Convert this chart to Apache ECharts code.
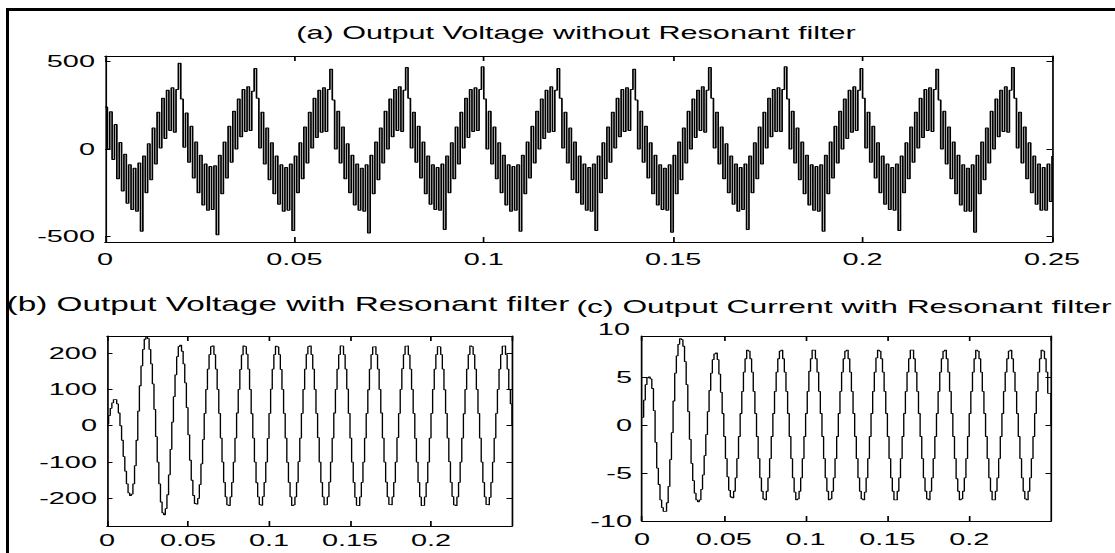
<!DOCTYPE html>
<html><head><meta charset="utf-8">
<script src="https://cdn.jsdelivr.net/npm/echarts@6/dist/echarts.min.js"></script>
<style>
html,body{margin:0;padding:0;background:#fff;overflow:hidden;}
#wrap{width:1115px;height:553px;overflow:hidden;position:relative;background:#fff;}
#chart{width:656px;height:553px;transform:scaleX(1.69970);transform-origin:0 0;}
</style></head><body><div id="wrap"><div id="chart"></div></div>
<script>
// ---------------- data ----------------
const titles = [
  '(a) Output Voltage without Resonant filter',
  '(b) Output Voltage with Resonant filter',
  '(c) Output Current with Resonant filter'
];
const timeStepA = 0.000625;   // s between samples of (a)
const timeStepBC = 0.001;     // s between samples of (b) and (c)
const xTicks = [0, 0.05, 0.1, 0.15, 0.2, 0.25];
const yTicksA = [-500, 0, 500];
const yTicksB = [-200, -100, 0, 100, 200];
const yTicksC = [-10, -5, 0, 5];
const topLabelC = '10';

const voltageA = [
240,0,213,-60,140,-170,37,-240,-30,-310,-90,-345,-110,-355,-80,-470,-40,-250,30,-175,120,-85,210,5,290,60,335,105,350,95,340,490,
285,10,205,-75,130,-165,40,-250,-35,-320,-85,-350,-100,-345,-95,-490,-35,-255,40,-165,130,-75,215,0,285,70,340,100,355,105,330,460,
290,5,210,-85,120,-175,35,-255,-40,-315,-90,-355,-105,-350,-85,-465,-40,-250,35,-170,125,-80,210,5,290,65,335,95,350,100,340,455,
280,0,215,-80,125,-170,30,-250,-35,-320,-85,-350,-110,-355,-90,-480,-35,-255,40,-175,120,-80,215,0,285,70,340,105,355,100,335,465,
290,5,210,-75,130,-165,40,-255,-40,-315,-90,-345,-105,-350,-85,-460,-40,-250,35,-170,125,-85,210,5,290,65,340,100,350,105,340,470,
285,0,215,-85,125,-170,35,-250,-35,-320,-90,-355,-100,-350,-90,-470,-35,-255,40,-165,130,-80,215,0,285,60,335,95,355,100,335,460,
290,5,210,-80,120,-175,40,-250,-40,-315,-85,-350,-105,-355,-85,-465,-40,-250,35,-170,125,-75,210,5,290,70,340,100,350,105,340,455,
280,0,215,-75,130,-165,35,-255,-35,-320,-90,-345,-110,-350,-90,-475,-35,-255,40,-175,120,-80,215,0,285,65,335,105,355,95,335,465,
290,5,210,-85,125,-170,30,-250,-40,-315,-85,-355,-105,-345,-85,-460,-40,-250,35,-170,125,-85,210,5,290,70,340,100,350,100,340,470,
285,0,215,-80,120,-175,40,-255,-35,-320,-90,-350,-100,-355,-90,-470,-35,-255,40,-165,130,-80,215,0,285,60,335,95,355,105,335,460,
290,5,210,-75,130,-165,35,-250,-40,-315,-85,-345,-105,-350,-85,-465,-40,-250,35,-170,125,-75,210,5,290,65,340,105,350,100,340,455,
280,0,215,-85,125,-170,40,-255,-35,-320,-90,-355,-110,-355,-90,-475,-35,-255,40,-175,120,-80,215,0,285,70,335,100,355,95,335,465,
290,5,210,-80,125,-170,35,-250,-40,-315,-85,-350,-105,-350,-85,-300,-40
];

const voltageB = [
5,28,48,63,72,72,60,35,0,-40,-85,-125,-160,-185,-192,-188,-160,-110,-40,40,
110,165,210,238,246,240,210,170,115,45,-30,-100,-160,-210,-240,-245,-228,-190,-135,-65,
10,80,140,190,218,222,205,170,118,50,-25,-95,-150,-192,-214,-216,-200,-162,-105,-38,
34,100,156,196,218,220,196,156,100,34,-34,-100,-156,-196,-218,-220,-196,-156,-100,-34,
35,100,155,195,220,218,197,156,100,33,-34,-100,-157,-196,-217,-219,-195,-156,-100,-35,
34,101,156,196,219,217,196,155,100,34,-34,-101,-156,-196,-220,-218,-196,-156,-99,-34,
34,100,156,197,218,220,196,156,100,34,-33,-100,-156,-196,-218,-217,-196,-155,-100,-34,
35,100,156,196,220,219,196,156,101,34,-34,-100,-156,-197,-219,-220,-196,-156,-100,-34,
34,99,156,196,217,218,196,156,100,35,-34,-100,-155,-196,-217,-218,-196,-156,-100,-33,
34,100,157,196,219,220,195,156,100,34,-35,-100,-156,-196,-220,-219,-196,-157,-100,-34,
34,100,156,196,218,217,196,156,99,34,-34,-99,-156,-195,-218,-220,-196,-156,-100,-34,
33,100,156,196,220,218,196,156,100,34,-34,-100,-156,-196,-217,-218,-197,-156,-100,-34,
34,100,156,196,219,220,196,156,100,60,
0
];

const currentC = [
0.8,2.6,4.2,4.9,5.0,4.8,3.8,1.5,-1.8,-4.5,-6.2,-7.8,-8.6,-9.0,-9.0,-8.1,-6.4,-3.6,-0.8,2.5,
5.4,7.2,8.4,9.0,8.9,8.2,6.6,4.2,1.4,-1.5,-4.0,-5.8,-7.1,-7.8,-8.0,-7.8,-6.7,-5.2,-3.2,-1.0,
1.4,3.6,5.4,6.8,7.4,7.5,6.8,5.3,3.4,1.2,-1.2,-3.5,-5.4,-6.8,-7.5,-7.6,-6.9,-5.5,-3.5,-1.2,
1.2,3.5,5.5,6.9,7.8,7.7,6.9,5.5,3.5,1.2,-1.2,-3.5,-5.5,-6.9,-7.7,-7.8,-6.9,-5.5,-3.5,-1.2,
1.2,3.5,5.5,6.9,7.7,7.8,6.9,5.5,3.5,1.2,-1.2,-3.5,-5.5,-7.0,-7.8,-7.7,-6.9,-5.5,-3.5,-1.2,
1.2,3.5,5.6,6.9,7.8,7.8,6.9,5.5,3.5,1.2,-1.2,-3.5,-5.5,-6.9,-7.8,-7.7,-6.9,-5.5,-3.5,-1.2,
1.2,3.5,5.5,6.9,7.7,7.8,6.9,5.5,3.5,1.2,-1.2,-3.5,-5.5,-6.9,-7.7,-7.8,-7.0,-5.5,-3.5,-1.2,
1.2,3.5,5.5,7.0,7.8,7.7,6.9,5.5,3.5,1.2,-1.2,-3.5,-5.5,-6.9,-7.8,-7.8,-6.9,-5.5,-3.5,-1.2,
1.2,3.5,5.5,6.9,7.8,7.8,6.9,5.5,3.5,1.2,-1.2,-3.5,-5.5,-6.9,-7.7,-7.8,-6.9,-5.5,-3.5,-1.2,
1.2,3.5,5.5,6.9,7.7,7.8,6.9,5.5,3.5,1.2,-1.2,-3.5,-5.6,-6.9,-7.8,-7.7,-6.9,-5.5,-3.5,-1.2,
1.2,3.5,5.5,6.9,7.8,7.7,6.9,5.5,3.5,1.2,-1.2,-3.5,-5.5,-6.9,-7.8,-7.8,-6.9,-5.5,-3.5,-1.2,
1.2,3.5,5.5,6.9,7.7,7.8,6.9,5.5,3.5,1.2,-1.2,-3.5,-5.5,-6.9,-7.7,-7.8,-6.9,-5.5,-3.5,-1.2,
1.2,3.5,5.5,6.9,7.8,7.7,6.9,5.5,3.3,3.3,
0
];

// ---------------- layout (page is stretched horizontally like the source figure) ----------------
const SX = 1115 / 656;
const px = v => v / SX;            // real page x -> chart x
const FONT = "'Liberation Sans', Arial, Helvetica, sans-serif";

function pairs(values, step) { return values.map((v, i) => [i * step, v]); }
const fmt = v => String(Math.round(v * 100) / 100);

const grids = [
  { left: px(105), top: 56, width: px(1052) - px(105), height: 186 },
  { left: px(107), top: 336, width: px(512) - px(107), height: 190 },
  { left: px(642), top: 336, width: px(1051) - px(642), height: 185 }
];
const yRanges = [[-531, 531], [-276, 247], [-10, 9.27]];
const yTicks = [yTicksA, yTicksB, yTicksC];
const xLabelMargin = [9, 6, 10];

const xAxes = [], yAxes = [];
grids.forEach((g, i) => {
  const base = {
    type: 'value', gridIndex: i, min: xTicks[0], max: xTicks[xTicks.length - 1], interval: 0.05,
    axisLine: { show: true, onZero: false, lineStyle: { color: '#000', width: 1 } },
    axisTick: { show: true, inside: true, length: 5, lineStyle: { color: '#000', width: 1 } },
    splitLine: { show: false }
  };
  xAxes.push(Object.assign({}, base, {
    position: 'bottom',
    axisLabel: { show: true, color: '#000', fontSize: 17, fontFamily: FONT, margin: xLabelMargin[i],
      showMaxLabel: i === 0, showMinLabel: true, formatter: fmt, hideOverlap: false }
  }));
  xAxes.push(Object.assign({}, base, { position: 'top', axisLabel: { show: false } }));
  const ybase = {
    type: 'value', gridIndex: i, min: yRanges[i][0], max: yRanges[i][1],
    axisLine: { show: true, onZero: false, lineStyle: { color: '#000', width: 1 } },
    axisTick: { show: true, inside: true, length: px(5.5), customValues: yTicks[i], lineStyle: { color: '#000', width: 1 } },
    splitLine: { show: false }
  };
  yAxes.push(Object.assign({}, ybase, {
    position: 'left',
    axisLabel: { show: true, color: '#000', fontSize: 17, fontFamily: FONT, margin: px(10),
      customValues: yTicks[i], formatter: fmt, hideOverlap: false }
  }));
  yAxes.push(Object.assign({}, ybase, { position: 'right', axisLabel: { show: false } }));
});

const mkSeries = (idx, data, width) => ({
  type: 'line', xAxisIndex: idx * 2, yAxisIndex: idx * 2, data: data, step: 'end',
  symbol: 'none', showSymbol: false, animation: false, silent: true,
  lineStyle: { color: '#000', width: width }
});

const chart = echarts.init(document.getElementById('chart'), null, { renderer: 'svg' });
chart.setOption({
  animation: false,
  backgroundColor: '#fff',
  grid: grids,
  xAxis: xAxes,
  yAxis: yAxes,
  series: [
    mkSeries(0, pairs(voltageA, timeStepA), 1),
    mkSeries(1, pairs(voltageB, timeStepBC), 0.8),
    mkSeries(2, pairs(currentC, timeStepBC), 0.8)
  ],
  graphic: [
    { type: 'text', x: px(576), y: 33, style: { text: titles[0], font: '18px ' + FONT, fill: '#000', textAlign: 'center', verticalAlign: 'middle' } },
    { type: 'text', x: px(288), y: 304, style: { text: titles[1], font: '19.6px ' + FONT, fill: '#000', textAlign: 'center', verticalAlign: 'middle' } },
    { type: 'text', x: px(844), y: 307, style: { text: titles[2], font: '18.7px ' + FONT, fill: '#000', textAlign: 'center', verticalAlign: 'middle' } },
    { type: 'text', x: px(630), y: 329, style: { text: topLabelC, font: '17px ' + FONT, fill: '#000', textAlign: 'right', verticalAlign: 'middle' } },
    { type: 'line', shape: { x1: px(7.5), y1: 8, x2: px(7.5), y2: 553 }, style: { stroke: '#000', lineWidth: px(3) } },
    { type: 'line', shape: { x1: px(6), y1: 9.5, x2: 656, y2: 9.5 }, style: { stroke: '#000', lineWidth: 3 } }
  ]
});
</script></body></html>
